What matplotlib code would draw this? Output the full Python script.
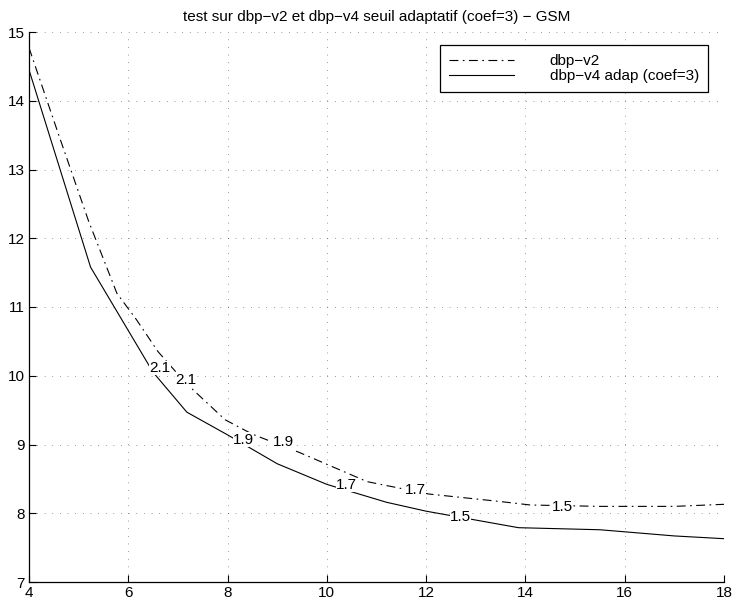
import matplotlib
matplotlib.use("Agg")
from matplotlib import pyplot as plt

plt.rcParams['font.family'] = ['Liberation Sans', 'DejaVu Sans']

# dbp-v2 (tiret-point)
x_v2 = [4, 4.6, 5.2, 5.77, 6.17, 6.6, 7.15, 7.95, 8.5, 9.46, 10.81, 12.05, 13.5, 14.1, 15.5, 17, 18]
y_v2 = [14.77, 13.5, 12.25, 11.2, 10.81, 10.35, 9.9, 9.36, 9.15, 8.88, 8.46, 8.28, 8.17, 8.12, 8.10, 8.10, 8.13]

# dbp-v4 adap (trait plein)
x_v4 = [4, 5.24, 5.8, 6.5, 7.18, 8, 9, 10, 11.2, 12, 13.86, 15.5, 17, 18]
y_v4 = [14.45, 11.58, 10.9, 10.05, 9.47, 9.14, 8.72, 8.42, 8.16, 8.03, 7.79, 7.76, 7.67, 7.63]

# étiquettes (clabel)
lab_v2 = ["2.1", "1.9", "1.7", "1.5"]
lab_v2_x = [7.15, 9.12, 11.78, 14.74]
lab_v2_y = [9.94, 9.03, 8.34, 8.09]
lab_v4 = ["2.1", "1.9", "1.7", "1.5"]
lab_v4_x = [6.64, 8.32, 10.4, 12.69]
lab_v4_y = [10.11, 9.07, 8.41, 7.94]

fig = plt.figure(figsize=(7.35, 6.06), dpi=100)
ax = fig.add_axes([29 / 735, 1 - 582 / 606, 695 / 735, 550 / 606])

ax.plot(x_v2, y_v2, color='black', linewidth=0.8, linestyle=(0, (8, 4, 1.5, 4)), label='dbp\u2212v2')
ax.plot(x_v4, y_v4, color='black', linewidth=0.8, label='dbp\u2212v4 adap (coef=3)')

for t, x, y in zip(lab_v2, lab_v2_x, lab_v2_y):
    ax.text(x, y, t, fontsize=11, ha='center', va='center',
            bbox=dict(facecolor='white', edgecolor='none', pad=0.2))
for t, x, y in zip(lab_v4, lab_v4_x, lab_v4_y):
    ax.text(x, y, t, fontsize=11, ha='center', va='center',
            bbox=dict(facecolor='white', edgecolor='none', pad=0.2))

ax.set_xlim(4, 18)
ax.set_ylim(7, 15)
ax.set_xticks(range(4, 19, 2))
ax.set_yticks(range(7, 16))
ax.tick_params(direction='in', length=5, width=0.8, labelsize=11, pad=3)
ax.grid(True, linestyle=(0, (1, 10)), color='0.25', linewidth=0.5)
ax.spines['top'].set_visible(False)
ax.spines['right'].set_visible(False)
ax.spines['left'].set_linewidth(0.9)
ax.spines['bottom'].set_linewidth(0.9)

ax.set_title("test sur dbp\u2212v2 et dbp\u2212v4 seuil adaptatif (coef=3) \u2212 GSM", fontsize=11, pad=8)

leg = ax.legend(loc='upper right', bbox_to_anchor=((708 - 29) / 695, 1 - 13 / 550),
                fancybox=False, framealpha=1, edgecolor='black', fontsize=11,
                handlelength=4.3, handletextpad=2.3, borderpad=0.6, labelspacing=0.05,
                borderaxespad=0)
leg.get_frame().set_linewidth(0.9)
ax.set_axisbelow(True)

fig.savefig("out.png", dpi=100)
